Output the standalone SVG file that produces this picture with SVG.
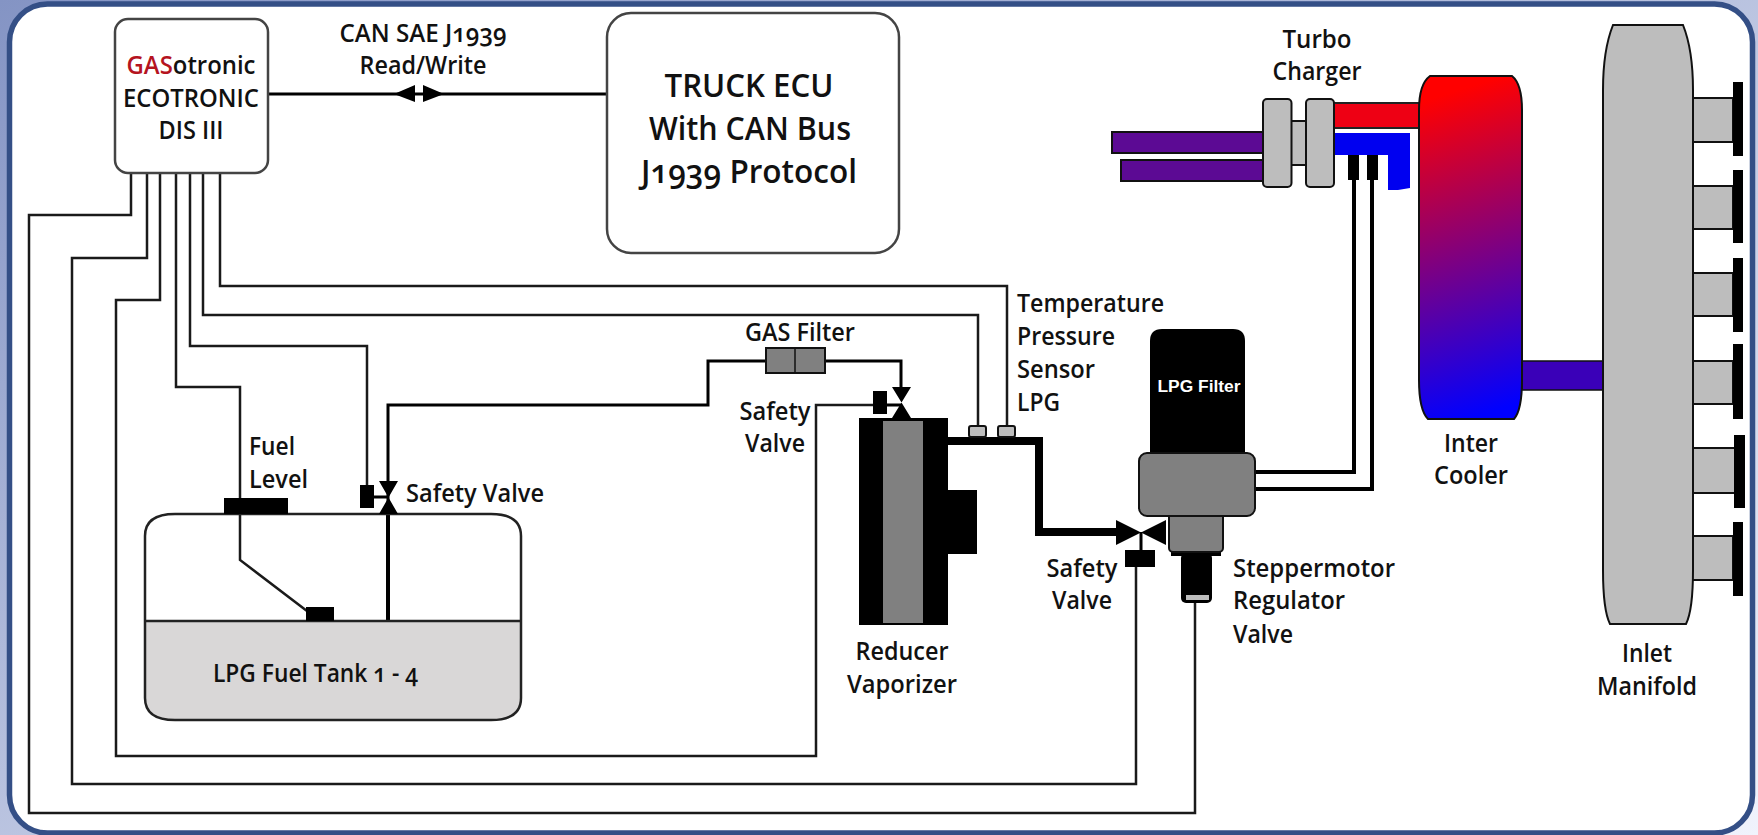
<svg xmlns="http://www.w3.org/2000/svg" width="1758" height="835" viewBox="0 0 1758 835">
<style>
text{font-family:"Open Sans","Noto Sans","Liberation Sans",sans-serif;font-size:26px;font-weight:600;fill:#111;font-variant-numeric:oldstyle-nums}
.m{text-anchor:middle}
.b{font-size:33px}
.w{fill:none;stroke:#1a1a1a;stroke-width:2.5}
.p{fill:none;stroke:#000;stroke-width:3}
.r{fill:none;stroke:#000;stroke-width:4}
.t{fill:none;stroke:#000;stroke-width:8}
.g{fill:#bdbdbd;stroke:#111;stroke-width:2}
.d{fill:#808080;stroke:#111;stroke-width:2}
</style>
<defs>
<linearGradient id="bg" x1="0" y1="0" x2="1" y2="1"><stop offset="0" stop-color="#8494c4"/><stop offset="1" stop-color="#f0f3fc"/></linearGradient>
<linearGradient id="cool" gradientUnits="userSpaceOnUse" x1="1425" y1="90" x2="1525" y2="412"><stop offset="0.03" stop-color="#ff0000"/><stop offset="0.97" stop-color="#0000ff"/></linearGradient>
</defs>
<rect width="1758" height="835" fill="url(#bg)"/>
<rect id="frame" x="9.500" y="4" width="1743" height="829" rx="38" fill="#fff" stroke="#344f86" stroke-width="5.500"/>

<g id="connectors">
<path class="w" d="M131 173V215H29V813H1195V600"/>
<path class="w" d="M147 173V258H72V784H1136V566"/>
<path class="w" d="M160 173V300H116V756H816V405H874"/>
<path class="w" d="M176 173V387H240V560L307 611"/>
<path class="w" d="M190 173V346H367V486"/>
<path class="w" d="M203 173V315H978V427"/>
<path class="w" d="M220 173V286H1007V427"/>
<path d="M268 94H607" fill="none" stroke="#000" stroke-width="3"/>
<path class="p" d="M388 514V405H708V361H766M825 361H901V388"/>
<path class="r" d="M388 514V621"/>
<path class="t" d="M948 441H1039V532H1118"/>
<path class="r" d="M1255 472H1354V178M1255 489H1372V178"/>
<path class="p" d="M374 497H388M1141 532V551M887 405H901"/>
</g>

<g id="can-arrows">
<path d="M394 94L415 85V102ZM444 94L423 85V102Z" fill="#000"/>
</g>

<g id="ecotronic">
<rect x="115" y="19" width="153" height="154" rx="13" fill="#fff" stroke="#444" stroke-width="2.500"/>
<text class="m" x="191" y="74" textLength="129" lengthAdjust="spacingAndGlyphs"><tspan fill="#b5141f">GAS</tspan>otronic</text>
<text class="m" x="191" y="107" textLength="136" lengthAdjust="spacingAndGlyphs">ECOTRONIC</text>
<text class="m" x="191" y="139" textLength="65" lengthAdjust="spacingAndGlyphs">DIS III</text>
</g>
<g id="can-label">
<text class="m" x="423" y="42" textLength="167" lengthAdjust="spacingAndGlyphs">CAN SAE J1939</text>
<text class="m" x="423" y="74" textLength="127" lengthAdjust="spacingAndGlyphs">Read/Write</text>
</g>
<g id="truck-ecu">
<rect x="607" y="13" width="292" height="240" rx="24" fill="#fff" stroke="#444" stroke-width="2.500"/>
<text class="m b" x="749" y="97" textLength="169" lengthAdjust="spacingAndGlyphs">TRUCK ECU</text>
<text class="m b" x="750" y="140" textLength="202" lengthAdjust="spacingAndGlyphs">With CAN Bus</text>
<text class="m b" x="749" y="183" textLength="216" lengthAdjust="spacingAndGlyphs">J1939 Protocol</text>
</g>

<g id="fuel-tank">
<path d="M145 621H521V698Q521 720 491 720H175Q145 720 145 698Z" fill="#d9d7d7"/>
<path d="M175 514H491Q521 514 521 536V698Q521 720 491 720H175Q145 720 145 698V536Q145 514 175 514ZM145 621H521" fill="none" stroke="#222" stroke-width="2.500"/>
<text x="213" y="682" textLength="205" lengthAdjust="spacingAndGlyphs">LPG Fuel Tank 1 - 4</text>
</g>
<g id="fuel-level">
<rect x="224" y="498" width="64" height="16" fill="#000"/>
<rect x="306" y="607" width="28" height="14" fill="#000"/>
<text x="249" y="455" textLength="46" lengthAdjust="spacingAndGlyphs">Fuel</text>
<text x="249" y="488" textLength="59" lengthAdjust="spacingAndGlyphs">Level</text>
</g>
<g id="safety-valve-tank">
<path d="M379 481H398L379 514H398Z" fill="#000"/>
<rect x="360" y="485" width="14" height="23" fill="#000"/>
<text x="406" y="502" textLength="138" lengthAdjust="spacingAndGlyphs">Safety Valve</text>
</g>
<g id="gas-filter">
<rect class="d" x="766" y="348" width="59" height="25"/>
<path d="M795 348V373" stroke="#111" stroke-width="1.500"/>
<text x="745" y="341" textLength="110" lengthAdjust="spacingAndGlyphs">GAS Filter</text>
</g>
<g id="safety-valve-reducer">
<path d="M892 387H911L892 418H911Z" fill="#000"/>
<rect x="873" y="391" width="14" height="23" fill="#000"/>
<text class="m" x="775" y="420" textLength="71" lengthAdjust="spacingAndGlyphs">Safety</text>
<text class="m" x="775" y="452" textLength="60" lengthAdjust="spacingAndGlyphs">Valve</text>
</g>
<g id="reducer">
<rect x="859" y="418" width="89" height="207" fill="#000"/>
<rect x="883" y="421" width="40" height="202" fill="#808080"/>
<rect x="948" y="490" width="29" height="64" fill="#000"/>
<text class="m" x="902" y="660" textLength="93" lengthAdjust="spacingAndGlyphs">Reducer</text>
<text class="m" x="902" y="693" textLength="110" lengthAdjust="spacingAndGlyphs">Vaporizer</text>
</g>
<g id="sensors">
<rect class="g" x="969" y="426" width="17" height="11" rx="2"/>
<rect class="g" x="998" y="426" width="17" height="11" rx="2"/>
<text x="1017" y="312" textLength="147" lengthAdjust="spacingAndGlyphs">Temperature</text>
<text x="1017" y="345" textLength="98" lengthAdjust="spacingAndGlyphs">Pressure</text>
<text x="1017" y="378" textLength="78" lengthAdjust="spacingAndGlyphs">Sensor</text>
<text x="1017" y="411" textLength="43" lengthAdjust="spacingAndGlyphs">LPG</text>
</g>
<g id="lpg-filter">
<path d="M1150 453V341Q1150 329 1162 329H1233Q1245 329 1245 341V453Z" fill="#000"/>
<text class="m" x="1199" y="392" textLength="83" lengthAdjust="spacingAndGlyphs" style="font-family:'Liberation Sans',sans-serif;font-size:16px;fill:#fff;font-weight:bold">LPG Filter</text>
</g>
<g id="regulator">
<rect x="1171" y="548" width="50" height="8" fill="#000"/>
<rect x="1181" y="553" width="31" height="50" rx="5" fill="#000"/>
<rect x="1186" y="595" width="23" height="5" fill="#bdbdbd"/>
<rect class="d" x="1169" y="512" width="54" height="40" rx="4"/>
<rect class="d" x="1139" y="453" width="116" height="63" rx="8"/>
<text x="1233" y="577" textLength="162" lengthAdjust="spacingAndGlyphs">Steppermotor</text>
<text x="1233" y="609" textLength="112" lengthAdjust="spacingAndGlyphs">Regulator</text>
<text x="1233" y="643" textLength="60" lengthAdjust="spacingAndGlyphs">Valve</text>
</g>
<g id="safety-valve-regulator">
<path d="M1116 520L1166 545V520L1116 545Z" fill="#000"/>
<rect x="1125" y="550" width="30" height="17" fill="#000"/>
<text class="m" x="1082" y="577" textLength="71" lengthAdjust="spacingAndGlyphs">Safety</text>
<text class="m" x="1082" y="609" textLength="60" lengthAdjust="spacingAndGlyphs">Valve</text>
</g>
<g id="turbo-charger">
<rect x="1112" y="132" width="152" height="21" fill="#5c0a94" stroke="#111" stroke-width="2"/>
<rect x="1121" y="160" width="143" height="21" fill="#5c0a94" stroke="#111" stroke-width="2"/>
<rect x="1334" y="103" width="87" height="25" fill="#ee0014" stroke="#222" stroke-width="2"/>
<path d="M1334 133H1410V188L1398 190H1388V155H1334Z" fill="#0000f0"/>
<rect class="g" x="1291" y="121" width="15" height="44"/>
<rect class="g" x="1263" y="99" width="28.500" height="88" rx="4"/>
<rect class="g" x="1306" y="99" width="28" height="88" rx="4"/>
<rect x="1348" y="155" width="11" height="25" fill="#000"/>
<rect x="1367" y="155" width="11" height="25" fill="#000"/>
<text class="m" x="1317" y="48" textLength="69" lengthAdjust="spacingAndGlyphs">Turbo</text>
<text class="m" x="1317" y="80" textLength="89" lengthAdjust="spacingAndGlyphs">Charger</text>
</g>
<g id="intercooler">
<rect x="1522" y="361" width="81" height="29" fill="#3a00b8" stroke="#111" stroke-width="1.500"/>
<path d="M1430 76H1512Q1522 84 1522 110V380Q1522 410 1514 419H1428Q1419 410 1419 380V110Q1419 84 1430 76Z" fill="url(#cool)" stroke="#111" stroke-width="2"/>
<text class="m" x="1471" y="452" textLength="54" lengthAdjust="spacingAndGlyphs">Inter</text>
<text class="m" x="1471" y="484" textLength="74" lengthAdjust="spacingAndGlyphs">Cooler</text>
</g>
<g id="inlet-manifold">
<path class="g" d="M1692 98H1733V142H1692ZM1692 186H1733V229H1692ZM1692 273H1733V316H1692ZM1692 361H1733V404H1692ZM1692 448H1735V493H1692ZM1692 536H1733V580H1692Z"/>
<path class="g" d="M1613 25H1683Q1693 50 1693 90V570Q1693 610 1686 624H1610Q1603 610 1603 570V90Q1603 50 1613 25Z"/>
<path d="M1733 82h10v74h-10zM1733 170h10v73h-10zM1733 258h10v74h-10zM1733 344h10v75h-10zM1734 435h11v73h-11zM1733 522h10v74h-10z" fill="#000"/>
<text class="m" x="1647" y="662" textLength="50" lengthAdjust="spacingAndGlyphs">Inlet</text>
<text class="m" x="1647" y="695" textLength="100" lengthAdjust="spacingAndGlyphs">Manifold</text>
</g>
</svg>
